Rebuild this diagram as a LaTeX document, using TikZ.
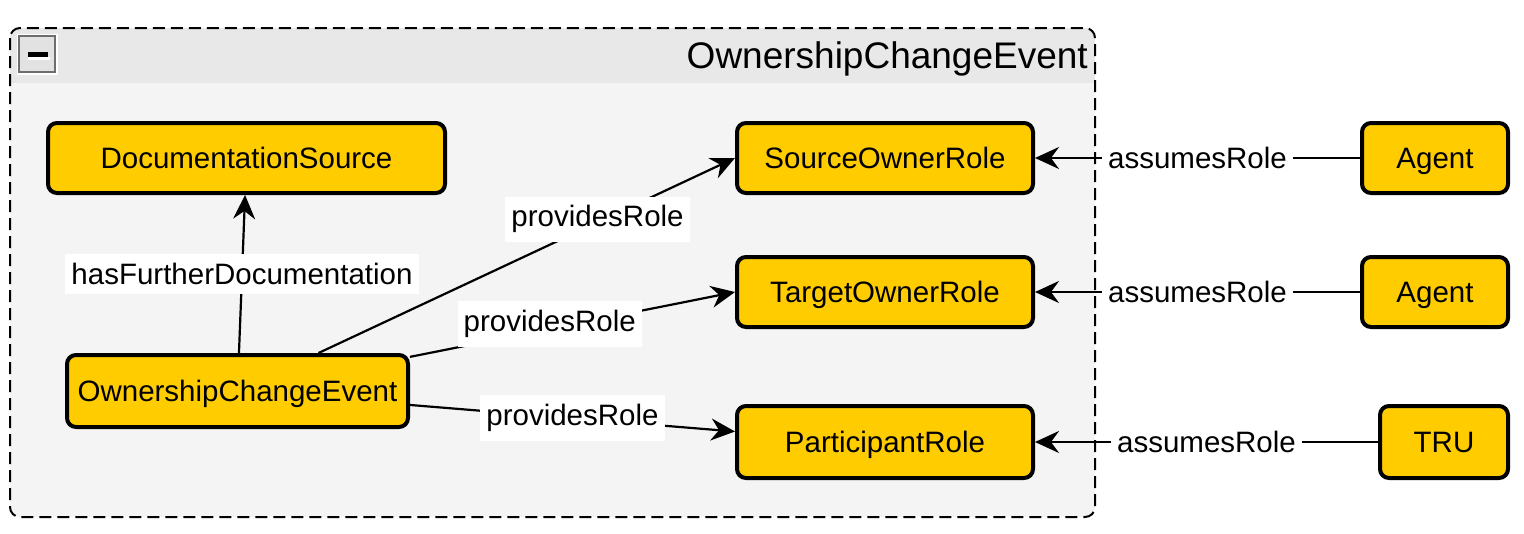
\documentclass[tikz,border=0pt]{standalone}
\usepackage{fontspec}
\setmainfont{Liberation Sans}
\usetikzlibrary{arrows.meta}
\definecolor{ency}{HTML}{FFCC00}
\definecolor{hdr}{HTML}{E8E8E8}
\definecolor{bdy}{HTML}{F4F4F4}
\definecolor{iconfill}{HTML}{E2E2E2}
\definecolor{iconline}{HTML}{6E6E6E}
\begin{document}
\begin{tikzpicture}[x=1pt,y=-1pt,
  cls/.style={draw=black, line width=4pt, fill=ency, rounded corners=9pt,
    font=\fontsize{29.5}{35}\selectfont, inner sep=0pt, minimum height=70pt,
    text height=21.5pt, text depth=0pt},
  lbl/.style={fill=white, font=\fontsize{29.5}{35}\selectfont, inner xsep=6pt, inner ysep=9pt, text=black},
  rel/.style={line width=2.2pt, draw=black, -{Stealth[length=24pt,width=22pt,inset=8pt]}},
  grp/.style={draw=black, line width=2pt, dash pattern=on 12pt off 6pt, rounded corners=10pt}]
\useasboundingbox (0,0) rectangle (1524,533);
% container
\begin{scope}
  \clip[rounded corners=10pt] (10,28) rectangle (1095,517);
  \fill[bdy] (10,28) rectangle (1095,517);
  \fill[hdr] (10,28) rectangle (1095,83);
\end{scope}
\draw[grp] (10,28) rectangle (1095,517);
% collapse icon
\fill[white] (17,34) rectangle (58,75);
\draw[iconline, fill=iconfill, line width=2pt] (19,36) rectangle (55,72);
\fill[black] (28,52) rectangle (48,57);
\fill[white] (28,57) rectangle (50,60);
\node[anchor=base east, font=\fontsize{37}{44}\selectfont, inner sep=0pt] (title) at (1088,68) {OwnershipChangeEvent};
% nodes
\node[cls, minimum width=397pt] (doc) at (246.5,158) {DocumentationSource};
\node[cls, minimum width=296pt] (sor) at (885,158) {SourceOwnerRole};
\node[cls, minimum width=296pt] (tor) at (885,292) {TargetOwnerRole};
\node[cls, minimum width=296pt, minimum height=72pt] (pr) at (885,442) {ParticipantRole};
\node[cls, minimum width=341pt, minimum height=72pt] (oce) at (237.5,391) {OwnershipChangeEvent};
\node[cls, minimum width=146pt] (ag1) at (1435,158) {Agent};
\node[cls, minimum width=146pt] (ag2) at (1435,292) {Agent};
\node[cls, minimum width=128pt, minimum height=72pt] (tru) at (1444,442) {TRU};
% edges
\draw[rel] (oce) -- (doc) node[lbl, pos=0.5] {hasFurtherDocumentation};
\draw[rel] (oce) -- (sor.west) node[lbl, pos=0.67, yshift=3pt] {providesRole};
\draw[rel] (oce) -- (tor.west) node[lbl, pos=0.43, yshift=5pt] {providesRole};
\draw[rel] (oce) -- (pr.176) node[lbl, pos=0.5] {providesRole};
\draw[rel] (ag1) -- (sor) node[lbl, pos=0.5] {assumesRole};
\draw[rel] (ag2) -- (tor) node[lbl, pos=0.5] {assumesRole};
\draw[rel] (tru) -- (pr) node[lbl, pos=0.5] {assumesRole};
\end{tikzpicture}
\end{document}
